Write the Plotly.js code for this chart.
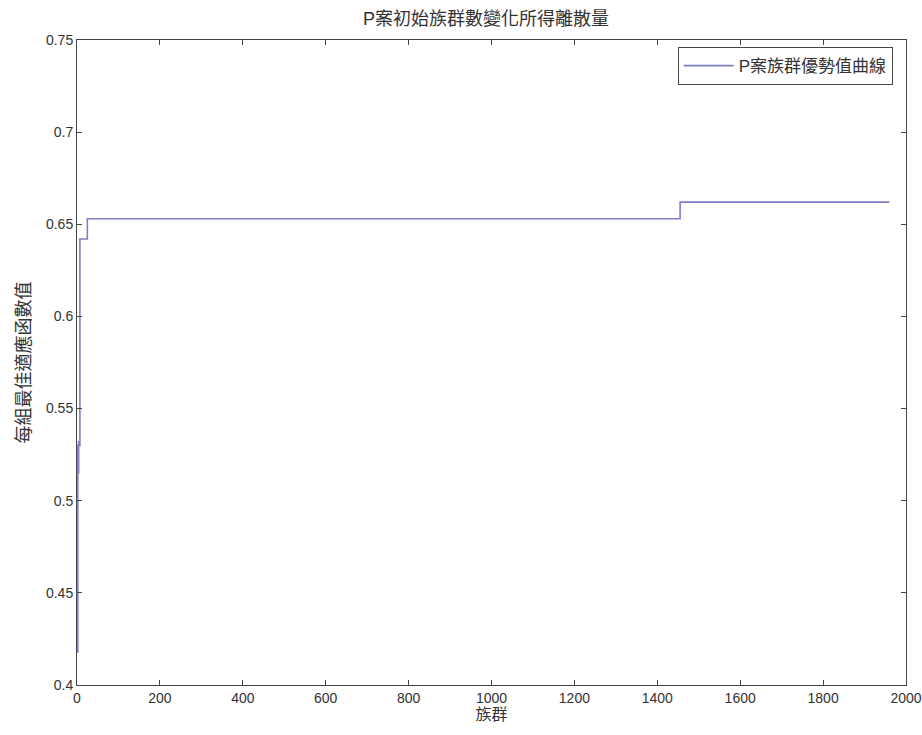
<!DOCTYPE html>
<html>
<head>
<meta charset="utf-8">
<script src="https://cdn.plot.ly/plotly-3.0.1.min.js"></script>
<style>html,body{margin:0;padding:0;background:#fff;}#chart{width:922px;height:735px;}</style>
</head>
<body>
<div id="chart"></div>
<script>
const generations = [0, 2, 3, 4, 5, 7, 25, 1455, 1960];
const bestValues = [0.418, 0.53, 0.515, 0.532, 0.53, 0.642, 0.653, 0.662, 0.662];
const xTicks = [0, 200, 400, 600, 800, 1000, 1200, 1400, 1600, 1800, 2000];
const yTicks = [0.4, 0.45, 0.5, 0.55, 0.6, 0.65, 0.7, 0.75];
const yTickText = ['0.4', '0.45', '0.5', '0.55', '0.6', '0.65', '0.7', '0.75'];

const fontFam = '"Liberation Sans", Arial, "Noto Sans CJK TC", sans-serif';
const trace = {
  x: generations, y: bestValues, type: 'scatter', mode: 'lines',
  line: {shape: 'hv', color: '#7f7fc8', width: 1.6},
  name: 'P案族群優勢值曲線'
};
const axisCommon = {
  showline: true, linecolor: '#444', linewidth: 1, mirror: 'ticks',
  ticks: 'inside', ticklen: 5, tickcolor: '#444', showgrid: false, zeroline: false,
  tickfont: {size: 14, color: '#333', family: fontFam}
};
const layout = {
  width: 922, height: 735,
  margin: {l: 77, r: 16, t: 40, b: 50},
  paper_bgcolor: '#fff', plot_bgcolor: '#fff',
  font: {family: fontFam, color: '#333'},
  title: {text: 'P案初始族群數變化所得離散量', x: 0.527, xanchor: 'center', y: 0.975, yanchor: 'middle', font: {size: 18, color: '#333', family: fontFam}},
  xaxis: Object.assign({}, axisCommon, {range: [0, 2000], tickvals: xTicks, title: {text: '族群', font: {size: 16, color: '#333'}, standoff: 4}}),
  yaxis: Object.assign({}, axisCommon, {range: [0.4, 0.75], tickvals: yTicks, ticktext: yTickText, title: {text: '每組最佳適應函數值', font: {size: 18, color: '#333'}, standoff: 10}}),
  showlegend: true,
  legend: {x: 0.984, xanchor: 'right', y: 0.989, yanchor: 'top', bordercolor: '#444', borderwidth: 1, bgcolor: '#fff', itemwidth: 50, tracegroupgap: 0, font: {size: 17, color: '#333', family: fontFam}}
};
Plotly.newPlot('chart', [trace], layout, {displayModeBar: false, staticPlot: true});
</script>
</body>
</html>
